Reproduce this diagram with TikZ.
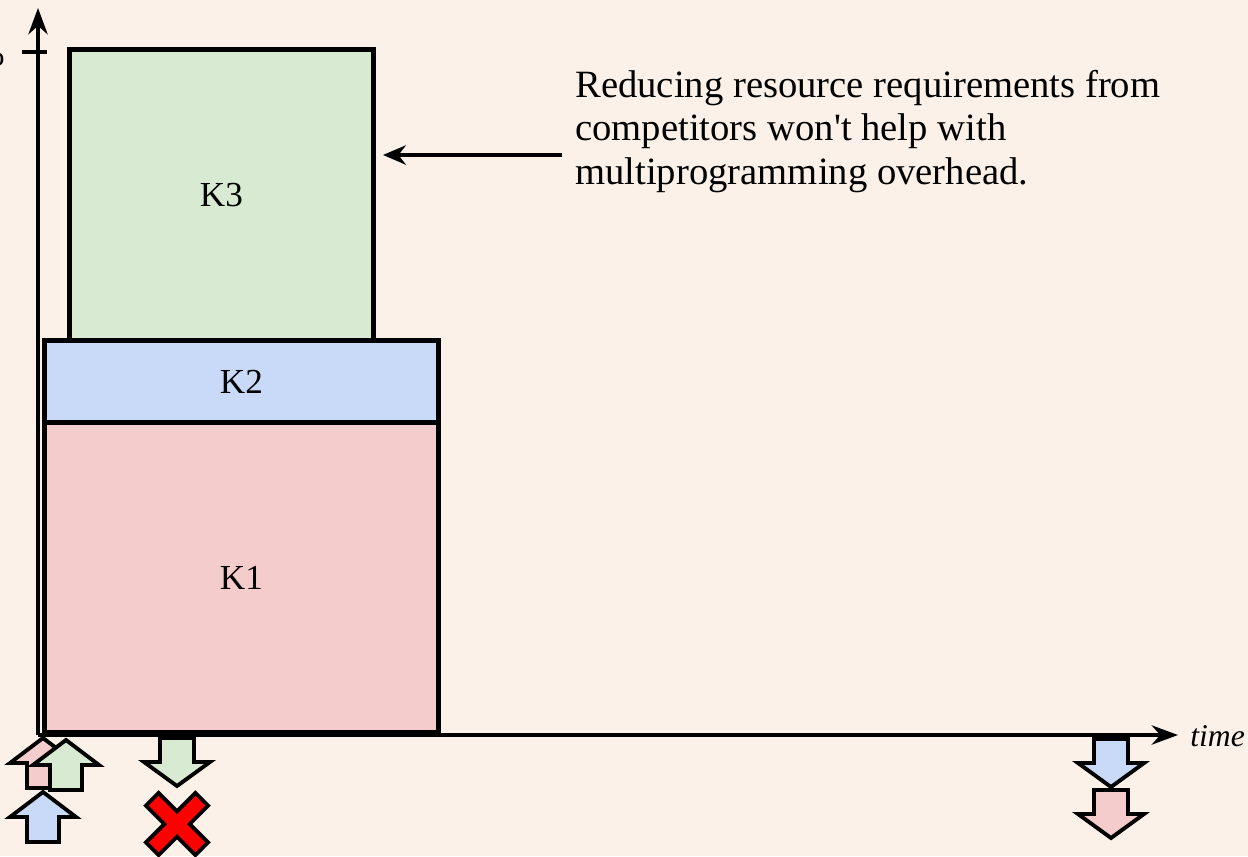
\documentclass[tikz,border=0pt]{standalone}
\usepackage{fontspec}
\setmainfont{Liberation Serif}
\usepackage{xcolor}
\usepackage{tikz}
\usetikzlibrary{arrows.meta}
\definecolor{bgcream}{RGB}{252,241,233}
\definecolor{kone}{RGB}{244,204,204}
\definecolor{ktwo}{RGB}{201,218,248}
\definecolor{kthree}{RGB}{217,234,211}
\tikzstyle{kbox} = [rectangle, draw=black, line width=2.8pt, inner sep=0pt,
           anchor=south west, font=\fontsize{20}{22}\selectfont]
\tikzstyle{axis} = [line width=2pt, -{Stealth[length=15pt,width=11pt]}]
\tikzstyle{arrow} = [line width=2pt, -{Stealth[length=13pt,width=11pt]}]
\tikzstyle{blockline} = [draw=black, line width=2.2pt, line join=miter]
\tikzset{
  uparrow/.pic={\path[blockline, pic actions] (0,0) -- (33,25) -- (16,25) -- (16,50)
      -- (-16,50) -- (-16,25) -- (-33,25) -- cycle;},
  downarrow/.pic={\path[blockline, pic actions] (0,0) -- (33,-24) -- (17,-24) -- (17,-48)
      -- (-17,-48) -- (-17,-24) -- (-33,-24) -- cycle;},
  crossmark/.pic={\path[blockline, pic actions, rotate=45] (9,9) -- (9,35) -- (-9,35)
      -- (-9,9) -- (-35,9) -- (-35,-9) -- (-9,-9) -- (-9,-35) -- (9,-35) -- (9,-9)
      -- (35,-9) -- (35,9) -- cycle;}
}

\begin{document}
\begin{tikzpicture}[x=0.02cm, y=-0.02cm]
\fill[bgcream] (0,0) rectangle (1248,856);
\useasboundingbox (0,0) rectangle (1248,856);
% kernels
\node (k1) [kbox, fill=kone, minimum width=7.88cm, minimum height=6.2cm] at (42,735) {K1};
\node (k2) [kbox, fill=ktwo, minimum width=7.88cm, minimum height=1.64cm] at (42,425) {K2};
\node (k3) [kbox, fill=kthree, minimum width=6.08cm, minimum height=5.82cm] at (67,343) {K3};
% axes
\coordinate (origin) at (38,735);
\coordinate (ytop) at (38,8);
\coordinate (xend) at (1178,735);
\draw [axis] (origin) -- (ytop);
\draw [axis] (origin) -- (xend);
\coordinate (tickl) at (22,52);
\coordinate (tickr) at (47,52);
\draw [line width=2pt] (tickl) -- (tickr);
\node (full) [anchor=east, inner sep=0pt, font=\fontsize{20}{22}\selectfont] at (5,54) {100\%};
\node (time) [anchor=west, inner sep=0pt, font=\fontsize{18}{20}\selectfont\itshape] at (1190,736) {time};
% note
\node (note) [anchor=north west, align=left, inner sep=0pt,
   font=\fontsize{22}{24.7}\selectfont] at (575,70)
   {Reducing resource requirements from\\competitors won\textquotesingle t help with\\multiprogramming overhead.};
\coordinate (tail) at (562,155);
\coordinate (head) at (383,155);
\draw [arrow] (tail) -- (head);
% launches and completions
\pic [fill=kone] at (43,738) {uparrow};
\pic [fill=kthree] at (66,740) {uparrow};
\pic [fill=ktwo] at (43,792) {uparrow};
\pic [fill=kthree] at (177,786) {downarrow};
\pic [fill=red] at (177,824) {crossmark};
\pic [fill=ktwo] at (1111,787) {downarrow};
\pic [fill=kone] at (1111,838) {downarrow};
\end{tikzpicture}
\end{document}
